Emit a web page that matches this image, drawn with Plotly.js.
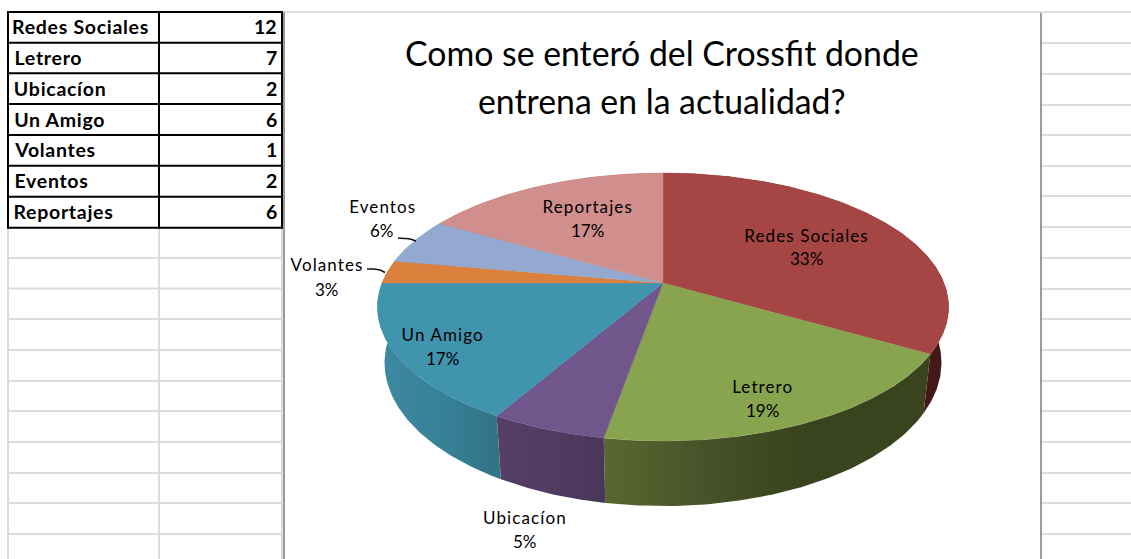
<!DOCTYPE html>
<html><head><meta charset="utf-8">
<script src="https://cdn.plot.ly/plotly-3.0.1.min.js"></script>
<style>html,body{margin:0;padding:0;background:#fff;overflow:hidden}#g{width:1131px;height:559px}</style>
</head><body><div id="g"></div>
<script>
const categories = ['Redes Sociales','Letrero','Ubicacíon','Un Amigo','Volantes','Eventos','Reportajes'];
const values = [12,7,2,6,1,2,6];
const percentLabels = ['33%','19%','5%','17%','3%','6%','17%'];
const titleText = 'Como se enteró del Crossfit donde<br>entrena en la actualidad?';

const topColors = ['#A64644','#88A44E','#71568C','#4094AE','#D9813D','#93A9CF','#D08E8C'];
const wallScales = [
  [[0,'#4a1a1a'],[1,'#451818']],
  [[0,'#5a672f'],[.3,'#48532a'],[.6,'#39431d'],[1,'#39431d']],
  [[0,'#573f68'],[1,'#49375a']],
  [[0,'#3d8aa2'],[.6,'#367f94'],[1,'#327384']],
  [[0,'#a0602c'],[1,'#a0602c']],
  [[0,'#6d7d9a'],[1,'#6d7d9a']],
  [[0,'#9a6a68'],[1,'#9a6a68']]
];
// projection of the pie disc
const P = {cx:663, cy:283, R:281, B:129.7, k:0.179, botScaleX:0.975, botY:337, botScaleY:1.07};
function topPt(a){const u=Math.sin(a),v=Math.cos(a),d=1+P.k*v;return [P.cx+P.R*u/d,P.cy-P.B*v/d];}
function botPt(a){const u=Math.sin(a),v=Math.cos(a),d=1+P.k*v;return [P.cx+P.botScaleX*P.R*u/d,P.botY-P.botScaleY*P.B*v/d];}
const total = values.reduce((s,v)=>s+v,0);
const traces=[], tops=[];
let acc=0;
values.forEach((val,i)=>{
  const a0=acc/total*2*Math.PI; acc+=val; const a1=acc/total*2*Math.PI;
  const n=Math.max(8,Math.round((a1-a0)*90));
  const arc=[];for(let j=0;j<=n;j++)arc.push(a0+(a1-a0)*j/n);
  const t=arc.map(topPt), b=arc.map(botPt).reverse();
  const wall=t.concat(b);
  traces.push({type:'scatter',mode:'lines',x:wall.map(p=>p[0]),y:wall.map(p=>p[1]),fill:'toself',
    line:{width:0},fillgradient:{type:'horizontal',colorscale:wallScales[i]},hoverinfo:'skip',showlegend:false});
  const face=[[P.cx,P.cy]].concat(t,[[P.cx,P.cy]]);
  tops.push({type:'scatter',mode:'lines',x:face.map(p=>p[0]),y:face.map(p=>p[1]),fill:'toself',
    fillcolor:topColors[i],line:{width:0.4,color:topColors[i]},name:categories[i],hoverinfo:'name',showlegend:false});
});
// leader lines
const leaders=[
  {x:[398,404,410,416],y:[238,238.5,239,241]},
  {x:[367,373,380,385],y:[269,269,270,272.5]}
].map(l=>({type:'scatter',mode:'lines',x:l.x,y:l.y,line:{color:'#111',width:1.5,shape:'spline'},hoverinfo:'skip',showlegend:false}));

const shapes=[];
const line=(x0,y0,x1,y1,c,w)=>shapes.push({type:'line',xref:'x',yref:'y',x0,y0,x1,y1,line:{color:c,width:w},layer:'below'});
const rowsLeft=[258,288.5,319,350,381,411,442,473,503,534];
rowsLeft.forEach(y=>line(8,y,283,y,'#dcdcdc',2));
[8,159].forEach(x=>line(x,228,x,559,'#dcdcdc',2));
line(282,228,282,559,'#dcdcdc',2);
const rowsRight=[43,74,105,135,166,196,227,258,289,319,350,381,411,442,473,503,534];
rowsRight.forEach(y=>line(1042,y,1131,y,'#dcdcdc',2));
line(284,12,1131,12,'#e0e0e0',2);
line(284,12,284,559,'#9c9c9c',2);
line(1041,13,1041,559,'#9c9c9c',2);
const rowsTable=[12,42.7,73.3,104,135,165.7,196.7,227.7];
rowsTable.forEach(y=>line(8,y,282,y,'#000',2));
[8,159,282].forEach(x=>line(x,11,x,228.7,'#000',2));

const ann=[];
const spacing=[];
const txt=(x,y,text,size,anchor,bold,ls)=>{
  spacing.push(ls||0);
  ann.push({xref:'x',yref:'y',x,y,text:bold?'<b>'+text+'</b>':text,showarrow:false,
  xanchor:anchor,yanchor:'middle',font:{family:'Lato, Carlito, sans-serif',size,color:'#000'}});
};
categories.forEach((c,i)=>{
  const y=(rowsTable[i]+rowsTable[i+1])/2;
  txt(14.5,y-0.5,c,19.5,'left',true,0.7);
  txt(279,y-0.5,String(values[i]),19.5,'right',true,0);
});
const labelPos=[[806,235],[762,386],[525,517],[442,334],[327,264],[382,206],[587,206]];
const pctPos=[[806,258],[762,410],[525,541],[442,358],[327,289],[382,230],[587,230]];
categories.forEach((c,i)=>{
  txt(labelPos[i][0],labelPos[i][1],c,17,'center',false,1.1);
  txt(pctPos[i][0],pctPos[i][1],percentLabels[i],17,'center',false,0);
});
const titleLines=titleText.split('<br>');
txt(662,53,titleLines[0],33.8,'center',false,0);
txt(662,100.5,titleLines[1],33.8,'center',false,0);

const css=spacing.map((s,i)=>s?`.annotation[data-index="${i}"] text{letter-spacing:${s}px}`:'').join('');
const st=document.createElement('style');st.textContent=css;document.head.appendChild(st);

Plotly.newPlot('g',traces.concat(tops,leaders),{
  width:1131,height:559,margin:{l:0,r:0,t:0,b:0},paper_bgcolor:'#fff',plot_bgcolor:'#fff',showlegend:false,
  xaxis:{range:[0,1131],visible:false,fixedrange:true},
  yaxis:{range:[559,0],visible:false,fixedrange:true},
  shapes,annotations:ann
},{displayModeBar:false,staticPlot:true});
</script></body></html>
